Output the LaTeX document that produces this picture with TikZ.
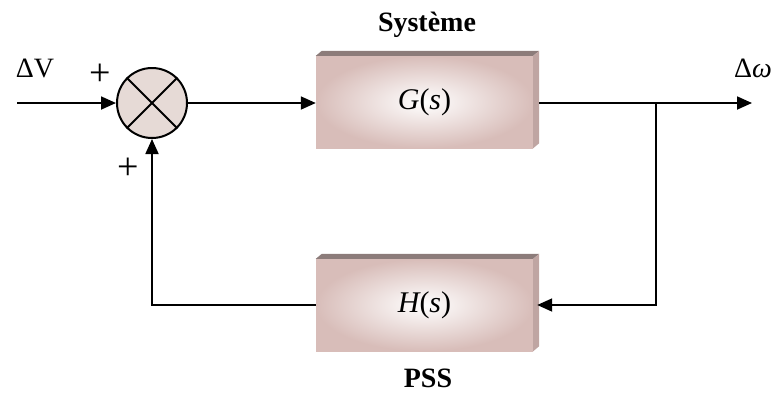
\documentclass[tikz,border=0pt]{standalone}
\usepackage{fontspec}
\setmainfont{Liberation Serif}
\usetikzlibrary{arrows.meta,calc}
\definecolor{boxout}{HTML}{D8BDB9}
\definecolor{boxtop}{HTML}{8C7C7A}
\definecolor{boxside}{HTML}{BFA5A2}
\definecolor{sumfill}{HTML}{E6DAD6}
\begin{document}
\begin{tikzpicture}[x=1pt,y=-1pt,
  blk/.style={minimum width=217pt,minimum height=92pt,inner sep=0pt,inner color=white,outer color=boxout},
  wire/.style={line width=1.8pt},
  sig/.style={wire,-{Triangle[length=15pt,width=13pt]}},
  lbl/.style={font=\fontsize{28}{32}\selectfont,inner sep=0pt},
  plus/.style={font=\fontsize{38}{42}\selectfont,inner sep=0pt},
  ttl/.style={font=\fontsize{28}{32}\selectfont\bfseries,inner sep=0pt},
  fn/.style={font=\fontsize{30}{34}\selectfont}]
\useasboundingbox (0,0) rectangle (774,392);
% summing junction
\node[circle,draw,line width=2pt,fill=sumfill,minimum size=70pt,inner sep=0pt] (sum) at (152,103) {};
\draw[line width=1.8pt] (sum.north west) -- (sum.south east) (sum.north east) -- (sum.south west);
% blocks
\node[blk,fn] (G) at (424.5,102) {\itshape G\upshape(\itshape s\upshape)};
\node[blk,fn] (H) at (424.5,305) {\itshape H\upshape(\itshape s\upshape)};
\foreach \b in {G,H}{
  \fill[boxtop] (\b.north west) -- ++(6,-5) -- ($(\b.north east)+(6,-5)$) -- (\b.north east) -- cycle;
  \fill[boxside] (\b.north east) -- ++(6,-5) -- ($(\b.south east)+(6,-5)$) -- (\b.south east) -- cycle;
}
% labels
\node[ttl] (tG) at (427,25) {Système};
\node[ttl] (tH) at (428,378) {PSS};
\node[lbl] (lin) at (35,68) {ΔV};
\node[lbl] (lout) at (753,68) {Δ\itshape ω};
\node[plus] (p1) at (100,75) {+};
\node[plus] (p2) at (128,169) {+};
% coordinates
\coordinate (in) at (17,103);
\coordinate (br) at (656,103);
\coordinate (out) at (752,103);
% connectors
\draw[sig] (in) -- (sum.west);
\draw[sig] (sum.east) -- (sum.east -| G.west);
\draw[wire] ($(G.east |- br)+(6,0)$) -- (br);
\draw[sig] (br) -- (out);
\draw[sig] (br) |- ($(H.east)+(4,0)$);
\draw[sig] (H.west) -| (sum.south);
\end{tikzpicture}
\end{document}
